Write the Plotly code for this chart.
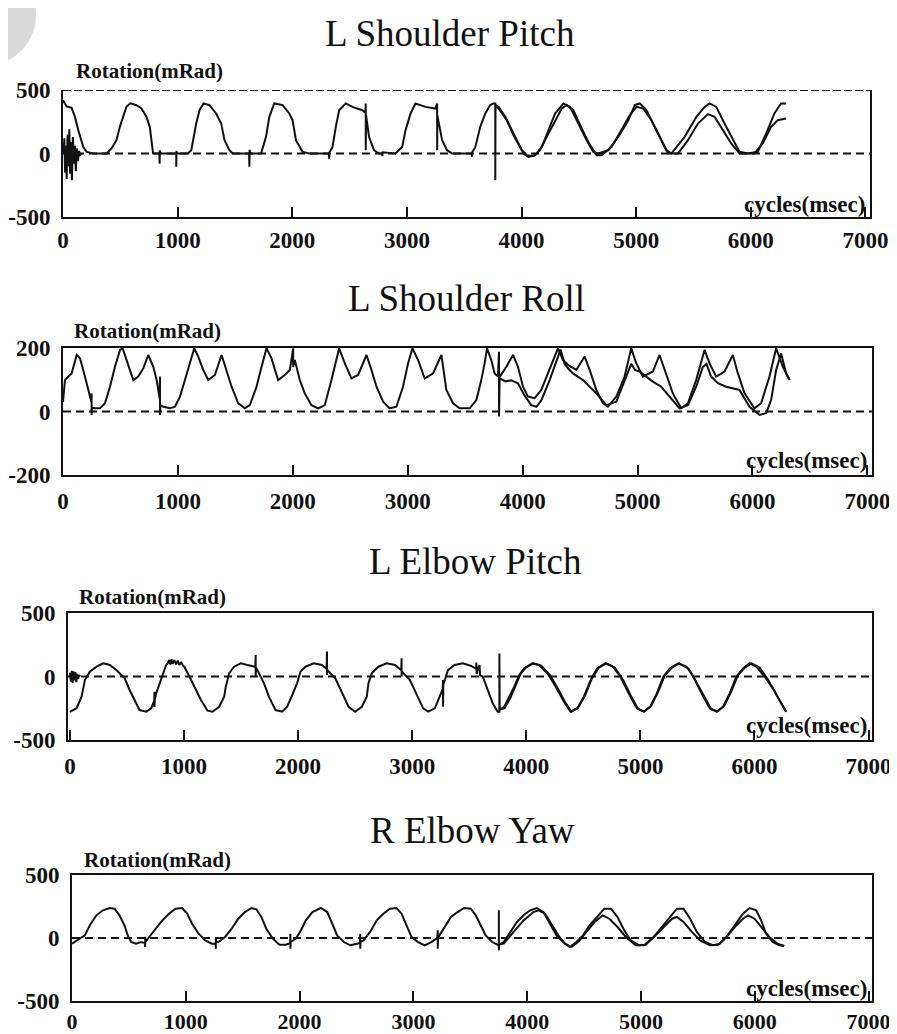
import plotly.graph_objects as go

# ---------------- data (time in ms, rotation in mRad) ----------------
titles = ["L Shoulder Pitch", "L Shoulder Roll", "L Elbow Pitch", "R Elbow Yaw"]
y_limits = [500, 200, 500, 500]
x_tick_vals = [0, 1000, 2000, 3000, 4000, 5000, 6000, 7000]
x_tick_text = ["0", "1000", "2000", "3000", "4000", "5000", "6000", "7000"]
y_label = "Rotation(mRad)"
x_label = "cycles(msec)"

# L Shoulder Pitch
lsp_a = [(0,420),(30,372),(75,360),(104,290),(133,185),(177,50),(206,13),(264,0),(380,0),(423,40),(467,105),(496,210),
         (525,290),(554,370),(588,395),(641,380),(684,355),(728,290),(757,210),(771,105),(786,0),(840,0),(843,-80),(845,25),
         (848,0),(988,0),(988,-105),(990,20),(993,0),(1090,0),(1119,26),(1162,236),(1191,341),(1226,394),(1278,381),(1336,315),
         (1380,236),(1409,105),(1452,26),(1481,0),(1623,0),(1626,-105),(1628,30),(1632,0),(1728,0),(1771,131),(1800,289),
         (1843,394),(1916,381),(1974,315),(2003,262),(2032,105),(2090,13),(2148,0),(2318,0),(2322,-40),(2325,10),(2351,52),
         (2380,210),(2409,341),(2467,394),(2525,367),(2612,341),(2638,320),(2641,394),(2641,26),(2644,300),(2670,130),(2713,26),
         (2757,0),(2784,0),(2786,-20),(2788,10),(2900,0),(2959,52),(2988,184),(3032,315),(3075,394),(3162,367),(3249,354),
         (3264,394),(3264,26),(3266,300),(3307,105),(3350,26),(3394,0),(3565,0),(3568,-26),(3570,10),(3597,52),(3640,210),
         (3684,315),(3727,381),(3756,394),(3771,394),(3771,-210),(3773,380),(3800,367),(3858,289),(3916,184),(3974,79),
         (4017,0),(4061,-26),(4119,-13),(4177,52),(4235,184),(4293,315),(4365,394),(4423,367),(4496,236),(4568,105),(4626,13),
         (4670,0),(4757,26),(4844,131),(4931,262),(4988,381),(5032,394),(5090,341),(5162,210),(5235,79),(5278,0),(5307,0),
         (5423,131),(5525,289),(5597,367),(5640,394),(5699,367),(5771,236),(5844,105),(5902,13),(5974,0),(6061,13),(6134,157),
         (6206,315),(6264,394),(6307,394)]
lsp_b = [(5,0),(12,120),(18,-150),(25,60),(32,-200),(40,150),(48,-100),(55,190),(62,-160),(70,90),(78,-210),(86,130),
         (95,-80),(104,60),(112,-140),(120,40),(130,-60),(140,20),(150,-10),(165,0),(None,None),
         (3773,380),(3800,354),(3872,262),(3930,144),(4003,26),(4046,-13),(4104,-21),(4162,26),(4220,131),(4293,262),(4351,354),
         (4394,381),(4452,341),(4525,197),(4597,66),(4655,-13),(4699,-13),(4786,52),(4873,184),(4945,302),(5003,367),(5061,354),
         (5133,262),(5206,131),(5264,26),(5307,0),(5365,0),(5452,105),(5539,236),(5626,310),(5684,289),(5757,184),(5829,79),
         (5902,0),(6032,0),(6104,79),(6177,210),(6235,262),(6307,276)]

# L Shoulder Roll
lsr_a = [(0,30),(17,99),(46,110),(75,120),(119,178),(148,168),(191,110),(220,68),(247,30),(249,57),(249,-11),(252,12),
         (278,10),(322,10),(365,26),(409,78),(452,141),(496,194),(519,199),(554,162),(612,99),(655,110),(699,136),(742,178),
         (786,141),(815,99),(842,40),(844,110),(844,-11),(847,20),(873,15),(931,10),(974,15),(1017,46),(1061,99),(1104,152),
         (1142,199),(1177,173),(1220,131),(1264,99),(1322,115),(1380,178),(1423,131),(1467,78),(1525,26),(1583,10),(1626,20),
         (1684,78),(1728,141),(1771,199),(1814,168),(1872,99),(1930,115),(1974,131),(2003,199),(2003,140),(2017,162),(2061,99),
         (2104,57),(2162,20),(2220,10),(2278,20),(2336,99),(2365,141),(2403,199),(2452,152),(2510,104),(2568,115),(2641,178),
         (2684,131),(2728,78),(2786,31),(2843,10),(2901,15),(2959,78),(3003,152),(3041,199),(3090,162),(3148,104),(3220,120),
         (3293,178),(3336,68),(3394,26),(3452,10),(3539,10),(3597,36),(3640,99),(3669,152),(3690,199),(3727,162),(3756,120),
         (3785,110),(3794,188),(3794,-16),(3796,105),(3800,109),(3858,141),(3916,178),(3959,141),(4003,78),(4046,47),(4104,42),
         (4162,68),(4235,131),(4307,199),(4351,162),(4394,147),(4467,131),(4539,173),(4583,131),(4641,68),(4699,26),(4742,15),
         (4815,47),(4887,110),(4945,199),(4988,152),(5046,110),(5133,126),(5191,178),(5235,131),(5307,57),(5380,10),(5438,26),
         (5510,99),(5583,194),(5626,152),(5684,110),(5757,126),(5829,178),(5873,120),(5931,57),(6017,10),(6075,26),(6148,110),
         (6206,199),(6264,141),(6322,99)]
lsr_b = [(3796,105),(3850,95),(3900,98),(3959,89),(4017,50),(4075,20),(4120,15),(4162,35),(4235,99),(4293,160),(4330,195),
         (4365,150),(4394,136),(4438,120),(4525,99),(4641,57),(4728,20),(4815,31),(4887,99),(4945,150),(4980,130),(5017,126),
         (5075,110),(5133,94),(5206,78),(5278,47),(5365,10),(5438,20),(5510,78),(5568,140),(5600,150),(5640,110),(5699,89),
         (5771,78),(5887,68),(5974,15),(6061,-11),(6119,-5),(6162,36),(6206,131),(6249,183),(6293,120),(6322,99)]

# L Elbow Pitch
lep_a = [(0,-278),(58,-250),(102,-159),(131,-28),(174,38),(233,77),(291,104),(349,91),(407,51),(480,-14),(523,-106),
         (567,-185),(610,-264),(669,-277),(712,-251),(739,-190),(741,-120),(741,-240),(744,-180),(756,-133),(785,-54),(814,25),
         (843,91),(858,104),(870,130),(880,95),(890,135),(900,100),(915,130),(930,95),(945,125),(960,90),(975,115),(990,85),
         (1003,77),(1047,0),(1105,-106),(1148,-185),(1206,-269),(1250,-277),(1308,-238),(1352,-159),(1366,-80),(1395,25),
         (1439,77),(1497,104),(1555,91),(1625,77),(1628,170),(1628,0),(1631,70),(1657,25),(1701,-54),(1744,-159),(1802,-264),
         (1860,-277),(1904,-238),(1948,-146),(1991,-54),(2020,38),(2064,77),(2137,104),(2209,91),(2250,60),(2253,196),(2253,12),
         (2256,50),(2326,-14),(2384,-133),(2442,-238),(2500,-277),(2558,-238),(2602,-159),(2616,-54),(2645,25),(2703,77),
         (2776,104),(2849,91),(2904,50),(2907,143),(2907,0),(2910,38),(2980,-28),(3038,-146),(3096,-251),(3140,-277),(3198,-251),
         (3267,-100),(3270,-28),(3270,-238),(3273,-60),(3285,-28),(3313,50),(3371,91),(3444,104),(3517,83),(3560,60),(3562,110),
         (3565,20),(3580,70),(3590,90),(3595,10),(3618,0),(3662,-106),(3705,-211),(3749,-277),(3764,-277),(3764,182),(3767,-260),
         (3807,-238),(3851,-159),(3894,-80),(3938,12),(3982,64),(4054,104),(4112,91),(4185,25),(4258,-80),(4330,-198),(4388,-277),
         (4446,-251),(4505,-159),(4563,-28),(4621,64),(4694,104),(4752,83),(4824,0),(4897,-133),(4970,-251),(5028,-277),
         (5086,-238),(5144,-133),(5202,0),(5260,64),(5333,104),(5405,77),(5464,0),(5536,-133),(5609,-251),(5667,-277),
         (5725,-238),(5783,-133),(5841,0),(5900,64),(5958,104),(6016,77),(6088,0),(6161,-93),(6219,-185),(6277,-277)]
lep_b = [(0,30),(8,-40),(16,45),(24,-50),(32,40),(40,-30),(48,35),(56,-45),(64,20),(72,-20),(80,10),(90,0),(None,None),
         (3767,-260),(3810,-250),(3860,-170),(3905,-80),(3950,20),(3995,70),(4060,104),(4130,85),(4210,10),(4280,-100),
         (4345,-210),(4395,-277),(4455,-245),(4515,-150),(4575,-15),(4635,70),(4700,104),(4775,70),(4850,-30),(4915,-150),
         (4980,-255),(5035,-277),(5095,-230),(5155,-120),(5215,10),(5275,70),(5340,104),(5425,60),(5490,-40),(5555,-150),
         (5620,-255),(5675,-277),(5735,-230),(5795,-120),(5855,10),(5915,70),(5975,104),(6045,70),(6115,-20),(6180,-130),
         (6240,-220),(6277,-277)]

# R Elbow Yaw
rey_a = [(0,-45),(70,-5),(113,21),(157,101),(214,180),(272,220),(330,238),(374,233),(417,180),(461,101),(490,21),(519,-32),
         (562,-45),(606,-32),(640,-40),(643,-71),(643,10),(646,-30),(678,8),(736,74),(794,140),(852,193),(910,233),(968,238),
         (1012,193),(1055,114),(1113,34),(1171,-19),(1229,-45),(1262,-45),(1264,-85),(1264,0),(1267,-32),(1287,-32),(1345,8),
         (1403,74),(1461,153),(1519,206),(1577,238),(1620,228),(1664,167),(1707,74),(1765,-5),(1823,-53),(1881,-53),(1917,-40),
         (1919,34),(1919,-85),(1922,-32),(1968,-5),(2012,61),(2055,140),(2113,206),(2186,238),(2243,206),(2287,114),(2330,21),
         (2388,-32),(2446,-58),(2504,-45),(2530,-40),(2533,34),(2533,-85),(2536,-30),(2562,-19),(2620,48),(2678,140),(2736,193),
         (2794,233),(2852,238),(2896,193),(2939,101),(2983,8),(3041,-32),(3099,-58),(3157,-32),(3210,0),(3214,61),(3214,-85),
         (3217,0),(3229,21),(3287,101),(3330,167),(3388,206),(3446,238),(3504,233),(3548,180),(3591,101),(3635,21),(3693,-32),
         (3751,-58),(3751,220),(3751,-98),(3754,-50),(3794,-32),(3852,48),(3910,127),(3968,180),(4026,220),(4084,238),(4142,206),
         (4200,114),(4258,21),(4316,-32),(4374,-71),(4432,-32),(4490,21),(4548,101),(4621,180),(4678,233),(4736,233),(4794,167),
         (4852,61),(4910,-19),(4983,-58),(5041,-53),(5099,-5),(5171,74),(5244,153),(5316,233),(5374,233),(5432,153),(5490,48),
         (5563,-32),(5635,-58),(5693,-45),(5751,8),(5824,101),(5896,193),(5954,238),(6012,220),(6056,140),(6099,34),(6157,-32),
         (6215,-58),(6258,-64)]
rey_b = [(3754,-50),(3794,-45),(3881,48),(3968,140),(4055,206),(4099,220),(4157,193),(4215,101),(4273,21),(4331,-45),
         (4389,-71),(4447,-32),(4519,48),(4592,127),(4664,180),(4722,153),(4794,87),(4867,8),(4954,-58),(5026,-58),(5113,8),
         (5200,87),(5273,153),(5316,167),(5374,127),(5447,48),(5519,-19),(5606,-58),(5679,-53),(5751,8),(5824,87),(5896,153),
         (5940,180),(5998,153),(6070,74),(6128,8),(6200,-45),(6258,-64)]

series = [(lsp_a, lsp_b), (lsr_a, lsr_b), (lep_a, lep_b), (rey_a, rey_b)]

# ---------------- layout geometry (target pixels in the 897x1034 window) ----------------
VIEW_W, VIEW_H = 897, 1034
OFF = 8                      # page body margin that shifts the plot div
W, H = VIEW_W - OFF, VIEW_H - OFF
INK = "#111111"
SERIF = "Liberation Serif"
boxes = [  # left, right, top, bottom
    (63, 870, 90, 217),
    (63, 872, 348, 475),
    (68, 872, 613, 740),
    (72, 872, 875, 1001),
]
x_ranges = [[0, 7040], [0, 7040], [-17, 7030], [0, 7030]]
label_standoff = [1, 4, 4, 0]
tick_size = [23, 23, 23, 22]
title_pos = [(450, 33), (467, 298), (475, 561), (472, 830)]
ylab_pos = [(74, 71), (72, 331), (77, 597), (82, 860)]
xlab_pos = [(867, 204), (869, 460), (869, 725), (869, 988)]

fig = go.Figure()
layout = dict(
    width=W, height=H, margin=dict(l=0, r=0, t=0, b=0, pad=0, autoexpand=False),
    paper_bgcolor="white", plot_bgcolor="white", showlegend=False,
    annotations=[], shapes=[],
)

def px(x):
    return (x - OFF) / W

def py(y):
    return 1 - (y - OFF) / H

for i in range(4):
    n = "" if i == 0 else str(i + 1)
    xa, ya = "x" + n, "y" + n
    left, right, top, bottom = boxes[i]
    lim = y_limits[i]
    for k, data in enumerate(series[i]):
        xs = [p[0] for p in data]
        ys = [p[1] for p in data]
        fig.add_trace(go.Scatter(x=xs, y=ys, mode="lines", xaxis=xa, yaxis=ya,
                                 line=dict(color=INK, width=2), connectgaps=False,
                                 hoverinfo="skip"))
    layout["xaxis" + n] = dict(
        domain=[px(left), px(right)], range=x_ranges[i], anchor=ya,
        tickvals=x_tick_vals, ticktext=x_tick_text, ticks="inside", ticklen=10,
        tickwidth=2, tickcolor=INK, showline=True, linecolor=INK, linewidth=2,
        mirror=(i != 0), showgrid=False, zeroline=False, ticklabelstandoff=label_standoff[i],
        automargin=False,
        tickfont=dict(family=SERIF, size=tick_size[i], color=INK, weight="bold"),
    )
    layout["yaxis" + n] = dict(
        domain=[py(bottom), py(top)], range=[-lim, lim], anchor=xa,
        tickvals=[-lim, 0, lim], ticktext=[str(-lim), "0", str(lim)], ticks="",
        showline=True, linecolor=INK, linewidth=2, mirror=True, showgrid=False,
        zeroline=False, ticklabelstandoff=6, automargin=False,
        tickfont=dict(family=SERIF, size=23, color=INK, weight="bold"),
    )
    # dashed zero line
    layout["shapes"].append(dict(type="line", xref=xa + " domain", yref=ya, x0=0, x1=1, y0=0, y1=0,
                                 line=dict(color=INK, width=2, dash="8px,5px")))
    if i == 0:
        layout["shapes"].append(dict(type="line", xref=xa + " domain", yref=ya, x0=0, x1=1, y0=lim, y1=lim,
                                     line=dict(color=INK, width=2, dash="8px,3px")))
    tx, ty = title_pos[i]
    layout["annotations"].append(dict(text=titles[i], x=px(tx), y=py(ty), xref="paper", yref="paper",
                                      xanchor="center", yanchor="middle", showarrow=False,
                                      font=dict(family=SERIF, size=37, color=INK)))
    lx, ly = ylab_pos[i]
    layout["annotations"].append(dict(text="<b>" + y_label + "</b>", x=px(lx), y=py(ly), xref="paper",
                                      yref="paper", xanchor="left", yanchor="middle", showarrow=False,
                                      font=dict(family=SERIF, size=21, color=INK)))
    cx, cy = xlab_pos[i]
    layout["annotations"].append(dict(text="<b>" + x_label + "</b>", x=px(cx), y=py(cy), xref="paper",
                                      yref="paper", xanchor="right", yanchor="middle", showarrow=False,
                                      font=dict(family=SERIF, size=23, color=INK)))

# faint grey disc in the top-left corner of the scan
layout["shapes"].append(dict(type="circle", xref="paper", yref="paper", layer="below",
                             x0=px(-66), x1=px(36), y0=py(66), y1=py(-36),
                             fillcolor="#dadada", line=dict(width=0)))

fig.update_layout(**layout)
fig.write_html("out.html")
